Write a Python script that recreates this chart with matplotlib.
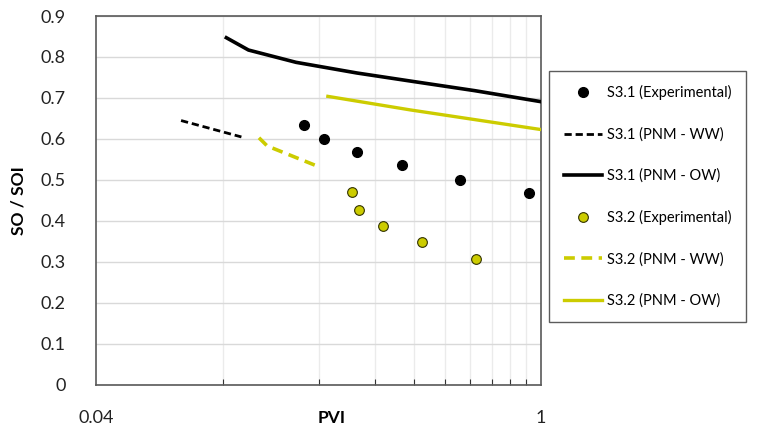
import matplotlib
matplotlib.use("Agg")
import matplotlib.pyplot as plt
from matplotlib.ticker import FixedLocator, FixedFormatter

plt.rcParams['font.family'] = ['Lato', 'DejaVu Sans']

# Experimental recovery data
s31_exp_pvi = [0.180, 0.208, 0.264, 0.365, 0.555, 0.914]
s31_exp_so = [0.635, 0.601, 0.568, 0.536, 0.501, 0.469]
s32_exp_pvi = [0.254, 0.269, 0.318, 0.422, 0.625]
s32_exp_so = [0.471, 0.428, 0.388, 0.348, 0.307]

# Pore network model curves
s31_ww_pvi = [0.074, 0.1145]
s31_ww_so = [0.645, 0.605]
s31_ow_pvi = [0.1027, 0.1205, 0.170, 0.264, 0.399, 0.618, 1.0]
s31_ow_so = [0.847, 0.817, 0.787, 0.761, 0.740, 0.718, 0.691]
s32_ww_pvi = [0.130, 0.138, 0.198]
s32_ww_so = [0.603, 0.583, 0.534]
s32_ow_pvi = [0.214, 0.388, 1.0]
s32_ow_so = [0.704, 0.671, 0.623]

yellow = '#CCCC00'
grid_c = '#D9D9D9'
spine_c = '#595959'

fig = plt.figure(figsize=(7.7, 4.29), dpi=100)
ax = fig.add_axes([0.1247, 0.1026, 0.5779, 0.8601])

ax.plot(s31_exp_pvi, s31_exp_so, 'o', color='black', markersize=7,
        label='S3.1 (Experimental)', zorder=5)
ax.plot(s31_ww_pvi, s31_ww_so, color='black', lw=2.0, dashes=(2.6, 1.4),
        label='S3.1 (PNM - WW)', zorder=4)
ax.plot(s31_ow_pvi, s31_ow_so, color='black', lw=2.6,
        label='S3.1 (PNM - OW)', zorder=4)
ax.plot(s32_exp_pvi, s32_exp_so, 'o', color=yellow, markeredgecolor='#333300',
        markeredgewidth=0.8, markersize=7, label='S3.2 (Experimental)', zorder=5)
ax.plot(s32_ww_pvi, s32_ww_so, color=yellow, lw=2.6, dashes=(3, 1.8),
        label='S3.2 (PNM - WW)', zorder=4)
ax.plot(s32_ow_pvi, s32_ow_so, color=yellow, lw=2.4,
        label='S3.2 (PNM - OW)', zorder=4)

ax.set_xscale('log')
ax.set_xlim(0.04, 1)
ax.set_ylim(0, 0.9)

ax.xaxis.set_major_locator(FixedLocator([0.04, 1]))
ax.xaxis.set_major_formatter(FixedFormatter(['0.04', '1']))
ax.xaxis.set_minor_locator(FixedLocator([0.1, 0.2, 0.3, 0.4, 0.5, 0.6, 0.7, 0.8, 0.9]))
ax.xaxis.set_minor_formatter(FixedFormatter([''] * 9))
ax.set_yticks([i / 10 for i in range(10)])
ax.set_yticklabels(['0'] + [f'{i / 10:.1f}' for i in range(1, 10)])

ax.tick_params(axis='x', which='major', length=0, pad=18, labelsize=13, colors='#222222')
ax.tick_params(axis='x', which='minor', direction='in', length=4, width=0.8, color='#333333')
ax.tick_params(axis='y', length=0, pad=22, labelsize=13, colors='#222222')

ax.grid(True, axis='y', color=grid_c, lw=1)
ax.grid(True, axis='x', which='minor', color='#EBEBEB', lw=1)
ax.set_axisbelow(True)
for s in ax.spines.values():
    s.set_color(spine_c)
    s.set_linewidth(1.2)

ax.set_ylabel('SO / SOI', fontsize=12.5, fontweight='bold', labelpad=10)
ax.set_xlabel('PVI', fontsize=12.5, fontweight='bold')
ax.xaxis.set_label_coords(0.53, -0.068)

leg = fig.legend(loc='upper left', bbox_to_anchor=(0.713, 0.835),
                 fontsize=10.5, frameon=True, fancybox=False,
                 edgecolor='#333333', borderpad=1.0, labelspacing=1.85,
                 handlelength=2.6, handletextpad=0.4, borderaxespad=0)
leg.get_frame().set_linewidth(1.0)

fig.savefig('out.png', dpi=100)
